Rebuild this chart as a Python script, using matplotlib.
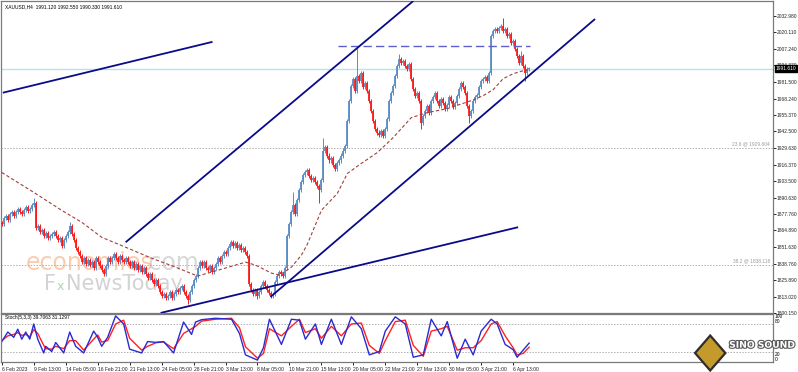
import numpy as np
import matplotlib.pyplot as plt
import matplotlib.patheffects as pe
from matplotlib.patches import Polygon

plt.rcParams['font.family'] = ['Liberation Sans', 'DejaVu Sans']

# --------------------------------------------------------------------------
#                         data
# --------------------------------------------------------------------------
first_open = 1871.0
closes = [
    1869.7, 1874.4, 1875.9, 1872.8, 1877.5, 1879.1, 1875.9, 1879.1, 1881.4, 1879.1,
    1877.5, 1880.6, 1883.0, 1879.9, 1881.4, 1884.5, 1886.1, 1866.6, 1868.1, 1863.4,
    1865.0, 1860.3, 1862.7, 1858.8, 1860.3, 1861.9, 1863.4, 1860.3, 1857.2, 1858.8,
    1852.5, 1857.2, 1860.3, 1863.4, 1868.1, 1861.9, 1857.2, 1851.0, 1847.8, 1844.7,
    1840.0, 1843.1, 1838.4, 1841.6, 1837.7, 1840.0, 1835.3, 1843.1, 1840.0, 1836.9,
    1833.8, 1830.6, 1836.9, 1843.1, 1840.0, 1843.1, 1846.3, 1843.1, 1840.0, 1844.7,
    1841.6, 1840.0, 1843.1, 1840.0, 1836.9, 1840.0, 1835.3, 1838.4, 1833.8, 1836.9,
    1832.2, 1835.3, 1830.6, 1827.5, 1830.6, 1825.9, 1822.8, 1825.9, 1821.3, 1816.6,
    1813.4, 1815.0, 1811.9, 1813.4, 1816.6, 1811.9, 1815.0, 1818.1, 1816.6, 1819.7,
    1821.3, 1816.6, 1813.4, 1810.3, 1816.6, 1821.3, 1825.9, 1829.1, 1835.3, 1840.0,
    1836.9, 1840.0, 1835.3, 1833.8, 1836.9, 1832.2, 1835.3, 1838.4, 1843.1, 1840.0,
    1844.7, 1847.8, 1846.3, 1851.0, 1854.1, 1855.6, 1852.5, 1854.9, 1851.0, 1853.3,
    1849.4, 1851.0, 1847.8, 1844.7, 1822.8, 1818.1, 1815.0, 1818.1, 1813.4, 1816.6,
    1821.3, 1824.4, 1821.3, 1818.1, 1815.8, 1813.4, 1815.0, 1824.4, 1829.1, 1832.2,
    1830.6, 1829.1, 1835.3, 1860.3, 1869.7, 1879.1, 1884.5, 1877.5, 1888.4, 1896.3,
    1902.5, 1908.0, 1910.3, 1911.9, 1907.2, 1904.1, 1905.6, 1902.5, 1899.4, 1896.3,
    1904.1, 1927.5, 1930.6, 1923.6, 1919.7, 1921.3, 1915.8, 1913.4, 1917.4, 1919.7,
    1923.6, 1927.5, 1931.4, 1950.9, 1966.6, 1978.3, 1983.8, 1974.4, 1986.1, 1982.2,
    1988.4, 1977.5, 1980.6, 1974.4, 1966.6, 1958.8, 1950.9, 1944.7, 1941.6, 1940.0,
    1943.1, 1939.2, 1944.7, 1952.5, 1966.6, 1972.8, 1978.3, 1986.1, 1993.9, 1999.4,
    1996.3, 1997.8, 1993.9, 1991.6, 1995.5, 1983.8, 1975.9, 1970.5, 1972.8, 1966.6,
    1949.4, 1954.9, 1958.8, 1962.7, 1957.2, 1966.6, 1969.7, 1972.8, 1966.6, 1962.7,
    1968.1, 1965.0, 1960.3, 1963.4, 1969.7, 1966.6, 1961.9, 1965.0, 1970.5, 1975.9,
    1980.6, 1977.5, 1972.8, 1962.7, 1954.9, 1958.8, 1966.6, 1969.7, 1971.3, 1977.5,
    1982.2, 1983.8, 1985.3, 1982.2, 1988.4, 2017.4, 2021.3, 2022.8, 2021.3, 2023.6,
    2025.2, 2021.3, 2022.8, 2017.4, 2018.9, 2011.9, 2013.5, 2007.2, 2001.7, 1996.3,
    2001.7, 1993.9, 1988.4, 1991.6, 1991.61,
]
# wicks that stick out well past the body
spike_high = {16: 1890.0, 34: 1871.3, 146: 1894.7, 161: 1937.7, 178: 2009.5,
              199: 2003.3, 251: 2031.4, 260: 2005.6}
spike_low = {93: 1807.2, 128: 1811.1, 135: 1811.9, 159: 1886.1, 210: 1944.7,
             234: 1949.4, 262: 1982.2}

# dashed moving average (bar, price)
ma_bar = [0, 16, 30, 40, 50, 62, 75, 87, 98, 105, 117, 122, 127, 135, 139, 145,
          150, 153, 160, 168, 173, 180, 188, 196, 205, 213, 223, 235, 241, 246,
          251, 256, 261, 264]
ma_val = [1910.3, 1894.7, 1880.6, 1871.3, 1859.5, 1851.7, 1843.1, 1836.1, 1829.1,
          1832.2, 1837.7, 1840.0, 1837.7, 1831.4, 1829.9, 1836.1, 1845.5, 1854.1,
          1880.6, 1893.9, 1909.5, 1917.4, 1925.9, 1937.7, 1953.3, 1957.2, 1960.3,
          1966.6, 1970.5, 1975.2, 1983.8, 1987.7, 1990.0, 1990.8]

# trend lines ((bar, price), (bar, price))
trend_lines = [
    ((0.5, 1972.8), (105.5, 2012.7)),
    ((62.0, 1855.6), (206.0, 2044.7)),
    ((134.5, 1812.7), (297.0, 2030.6)),
    ((79.5, 1800.2), (258.5, 1867.4)),
]
resist_bars = (168.5, 264.5)
resist_price = 2009.5
last_price = 1991.61
fib_levels = [(1929.604, "23.6 @ 1929.604"), (1838.118, "38.2 @ 1838.118")]

price_ticks = [2032.98, 2020.11, 2007.24, 1994.37, 1981.50, 1968.24, 1955.37,
               1942.50, 1929.63, 1916.37, 1903.50, 1890.63, 1877.76, 1864.89,
               1851.63, 1838.76, 1825.89, 1813.02, 1800.15]
date_labels = ["6 Feb 2023", "9 Feb 13:00", "14 Feb 05:00", "16 Feb 21:00",
               "21 Feb 13:00", "24 Feb 05:00", "28 Feb 21:00", "3 Mar 13:00",
               "8 Mar 05:00", "10 Mar 21:00", "15 Mar 13:00", "20 Mar 05:00",
               "22 Mar 21:00", "27 Mar 13:00", "30 Mar 05:00", "3 Apr 21:00",
               "6 Apr 13:00"]

# stochastic (5,3,3)
stoch_bar = [0, 3, 6, 8, 10, 12, 14, 16, 18, 21, 22, 25, 27, 31, 34, 37, 41, 46,
             48, 50, 53, 57, 61, 64, 70, 73, 78, 81, 86, 91, 95, 97, 100, 107,
             115, 119, 122, 128, 131, 134, 140, 145, 149, 152, 157, 160, 165, 170,
             175, 180, 184, 189, 192, 197, 202, 206, 211, 215, 220, 223, 228, 232,
             236, 240, 245, 248, 252, 256, 258, 261, 264]
stoch_k = [43, 63, 52, 69, 48, 63, 48, 80, 48, 19, 33, 22, 41, 19, 63, 33, 19, 65,
           52, 33, 52, 97, 80, 27, 19, 43, 41, 43, 19, 84, 58, 84, 89, 92, 90, 60,
           15, 4, 30, 90, 37, 90, 88, 48, 80, 37, 90, 37, 95, 70, 15, 22, 65, 95,
           80, 10, 15, 90, 55, 85, 8, 48, 15, 65, 90, 80, 37, 26, 10, 25, 39.7]
stoch_d = [45, 55, 58, 62, 56, 58, 53, 68, 60, 35, 28, 27, 33, 28, 45, 45, 25, 48,
           57, 42, 45, 80, 88, 50, 25, 33, 42, 42, 28, 60, 70, 75, 86, 90, 92, 72,
           32, 8, 18, 70, 55, 75, 90, 62, 70, 50, 75, 55, 80, 82, 35, 18, 45, 85,
           88, 35, 12, 65, 70, 75, 25, 30, 30, 45, 80, 85, 55, 30, 15, 18, 31.1]

# --------------------------------------------------------------------------
#                                 layout
# --------------------------------------------------------------------------
W, H = 798, 372
fig = plt.figure(figsize=(W / 100, H / 100), dpi=100)
ax = fig.add_axes([0.001, (H - 313) / H, 772 / W, 312 / H])
axs = fig.add_axes([0.001, (H - 362) / H, 772 / W, 48 / H])

frame_col = '#7a7a7a'
for a in (ax, axs):
    a.set_xlim(-0.5, 386)
    for s in a.spines.values():
        s.set_color(frame_col)
        s.set_linewidth(0.9)
    a.set_facecolor('white')

ax.set_ylim(1800.15, 2044.7)
axs.set_ylim(0, 101)

# --------------------------------------------------------------------------
#                                 candles
# --------------------------------------------------------------------------
up_col = '#5b8cc4'
dn_col = '#ff1a1a'
opens = [first_open] + closes[:-1]
for i, (o, c) in enumerate(zip(opens, closes)):
    col = up_col if c >= o else dn_col
    hi = spike_high.get(i, max(o, c) + 1.6)
    lo = spike_low.get(i, min(o, c) - 1.6)
    ax.vlines(i, lo, hi, color=col, lw=0.7, zorder=3)
    top, bot = max(o, c), min(o, c)
    if top - bot < 0.8:
        top += 0.4
        bot -= 0.4
    ax.vlines(i, bot, top, color=col, lw=1.3, zorder=3)

ax.plot(ma_bar, ma_val, color='#a0413a', lw=0.8, ls=(0, (3, 2)), zorder=4)

# horizontal helper lines
ax.axhline(last_price, color='#b7e1ec', lw=1.0, zorder=2)
for lvl, txt in fib_levels:
    ax.axhline(lvl, color='#b0b0b0', lw=0.7, ls=(0, (1.5, 1.5)), zorder=1)
    ax.text(384.5, lvl + 1.2, txt, fontsize=3.5, color='#9a9a9a',
            ha='right', va='bottom')
ax.plot(resist_bars, [resist_price] * 2, color='#5d5dcc', lw=1.0,
        ls=(0, (6, 3)), zorder=5)

for (b0, p0), (b1, p1) in trend_lines:
    ax.plot([b0, b1], [p0, p1], color='#0a0a8a', lw=1.3, zorder=6,
            solid_capstyle='butt')

# title
ax.text(1.5, 2042.0, "XAUUSD,H4  1991.120 1992.550 1990.330 1991.610",
        fontsize=3.5, color='black', va='top')

# watermark
ax.text(12, 1834, "economies", fontsize=17, color='#f6a36b', alpha=0.55,
        family='DejaVu Sans', zorder=2)
ax.text(70, 1834, ".com", fontsize=17, color='#b8b8b8', alpha=0.55,
        family='DejaVu Sans', zorder=2)
ax.text(21, 1818, "F", fontsize=15, color='#c8c8c8', alpha=0.8,
        family='DejaVu Sans', zorder=2)
ax.text(27.5, 1818, "x", fontsize=9, color='#9ec79e', alpha=0.8,
        family='DejaVu Sans', zorder=2)
ax.text(32, 1818, "NewsToday", fontsize=15, color='#c8c8c8', alpha=0.8,
        family='DejaVu Sans', zorder=2)

# right price scale
ax.yaxis.tick_right()
ax.set_yticks(price_ticks)
ax.set_yticklabels([f"{p:.3f}" for p in price_ticks])
ax.tick_params(axis='y', length=2, width=0.7, pad=0.6, labelsize=3.5,
               colors='#222222')
ax.tick_params(axis='x', bottom=False, labelbottom=False)
ax.text(1.004, last_price, f"{last_price:.3f}", transform=ax.get_yaxis_transform(),
        fontsize=3.5, color='white', va='center', ha='left', zorder=10,
        bbox=dict(boxstyle='square,pad=0.2', fc='black', ec='black'))

# --------------------------------------------------------------------------
#                               stochastic
# --------------------------------------------------------------------------
axs.axhline(80, color='#b0b0b0', lw=0.7, ls=(0, (1.5, 1.5)))
axs.axhline(20, color='#b0b0b0', lw=0.7, ls=(0, (1.5, 1.5)))
axs.plot(stoch_bar, stoch_d, color='#ff2020', lw=1.0)
axs.plot(stoch_bar, stoch_k, color='#2a2ad0', lw=1.0)
axs.text(1.5, 98, "Stoch(5,3,3) 39.7063 31.1297", fontsize=3.5, va='top')
axs.yaxis.tick_right()
axs.set_yticks([100, 80, 20, 0])
axs.set_yticklabels(["100", "80", "20", "0"])
axs.tick_params(axis='y', length=0, pad=1.5, labelsize=3.5)
for lab, v in zip(axs.get_yticklabels(), [100, 80, 20, 0]):
    lab.set_va('bottom' if v in (80, 0) else 'top')

axs.set_xticks(np.arange(len(date_labels)) * 16)
axs.set_xticklabels(date_labels)
axs.tick_params(axis='x', length=2.5, width=0.7, pad=0.8, labelsize=3.6,
                colors='#222222')
for lab in axs.get_xticklabels():
    lab.set_ha('left')

# logo in the corner
logo = Polygon([[0.890, 0.004], [0.909, 0.051], [0.890, 0.098], [0.871, 0.051]],
               closed=True, transform=fig.transFigure, fc='#c49a2c', ec='#2e2e2e',
               lw=1.6, zorder=10)
fig.patches.append(logo)
t = fig.text(0.955, 0.072, "SINO SOUND", fontsize=6.6, fontweight='bold',
             color='white', ha='center', va='center', zorder=11,
             family='DejaVu Sans')
t.set_path_effects([pe.withStroke(linewidth=1.6, foreground='#5a5a5a')])

fig.savefig("out.png", dpi=100)
